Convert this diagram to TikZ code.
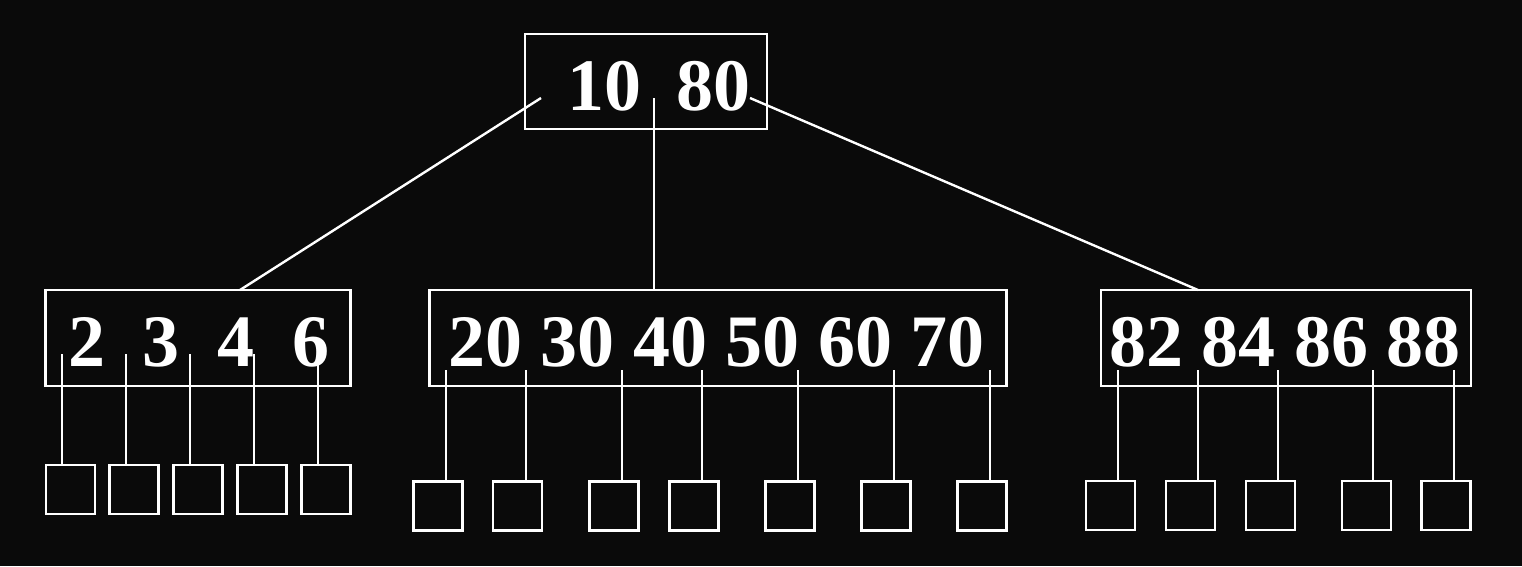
\documentclass[tikz,border=0pt]{standalone}
\usepackage{fontspec}
\setmainfont{Liberation Serif}[BoldFont={Liberation Serif Bold}]
\definecolor{bg}{HTML}{0A0A0A}
\begin{document}
\begin{tikzpicture}[x=1pt,y=-1pt,
  line width=2.4pt, white,
  keybox/.style={draw=white, line width=2.4pt, inner sep=0pt, minimum height=96pt},
  leaf/.style={draw=white, line width=2.4pt, inner sep=0pt, minimum width=49pt, minimum height=49pt},
  key/.style={inner sep=0pt, anchor=base west, text=white, font=\bfseries\fontsize{74}{80}\selectfont},
  link/.style={draw=white, line width=2.4pt}]
\fill[bg] (0,0) rectangle (1522,566);
\useasboundingbox (0,0) rectangle (1522,566);
% root
\node[keybox, minimum width=242pt, minimum height=95pt] (root) at (646,81.5) {};
\node[key] (k10) at (566,110) {\textbf{10}};
\node[key] (k80) at (675,110) {\textbf{80}};
% level 1 boxes
\node[keybox, minimum width=305pt] (lbox) at (198,338) {};
\node[keybox, minimum width=577pt] (mbox) at (718,338) {};
\node[keybox, minimum width=370pt] (rbox) at (1286,338) {};
\node[key] (k2) at (67,366) {\textbf{2}};
\node[key] (k3) at (141,366) {\textbf{3}};
\node[key] (k4) at (216,366) {\textbf{4}};
\node[key] (k6) at (291,366) {\textbf{6}};
\node[key] (mkeys) at (447,366) {\textbf{20 30 40 50 60 70}};
\node[key] (rkeys) at (1108,366) {\textbf{82 84 86 88}};
% root connectors
\coordinate (r1) at (541,98);
\coordinate (r2) at (654,98);
\coordinate (r3) at (750,98);
\coordinate (lt) at (240,290);
\coordinate (mt) at (654,290);
\coordinate (rt) at (1198,290);
\draw[link] (r1) -- (lt);
\draw[link] (r2) -- (mt);
\draw[link] (r3) -- (rt);
% leaves
\foreach \n/\x in {1/70.5,2/134,3/198,4/262,5/326}
  \node[leaf] (la\n) at (\x,489.5) {};
\foreach \n/\x in {1/438,2/517.5,3/614,4/694,5/790,6/886,7/982}
  \node[leaf] (lb\n) at (\x,506) {};
\foreach \n/\x in {1/1110.5,2/1190.5,3/1270.5,4/1366.5,5/1446}
  \node[leaf] (lc\n) at (\x,505.5) {};
% pointers
\foreach \n/\x in {1/62,2/126,3/190,4/254,5/318}{
  \coordinate (pa\n) at (\x,354);
  \draw[link] (pa\n) -- (pa\n |- la\n.north);}
\foreach \n/\x in {1/446,2/526,3/622,4/702,5/798,6/894,7/990}{
  \coordinate (pb\n) at (\x,370);
  \draw[link] (pb\n) -- (pb\n |- lb\n.north);}
\foreach \n/\x in {1/1118,2/1198,3/1278,4/1373,5/1454}{
  \coordinate (pc\n) at (\x,370);
  \draw[link] (pc\n) -- (pc\n |- lc\n.north);}
\end{tikzpicture}
\end{document}
